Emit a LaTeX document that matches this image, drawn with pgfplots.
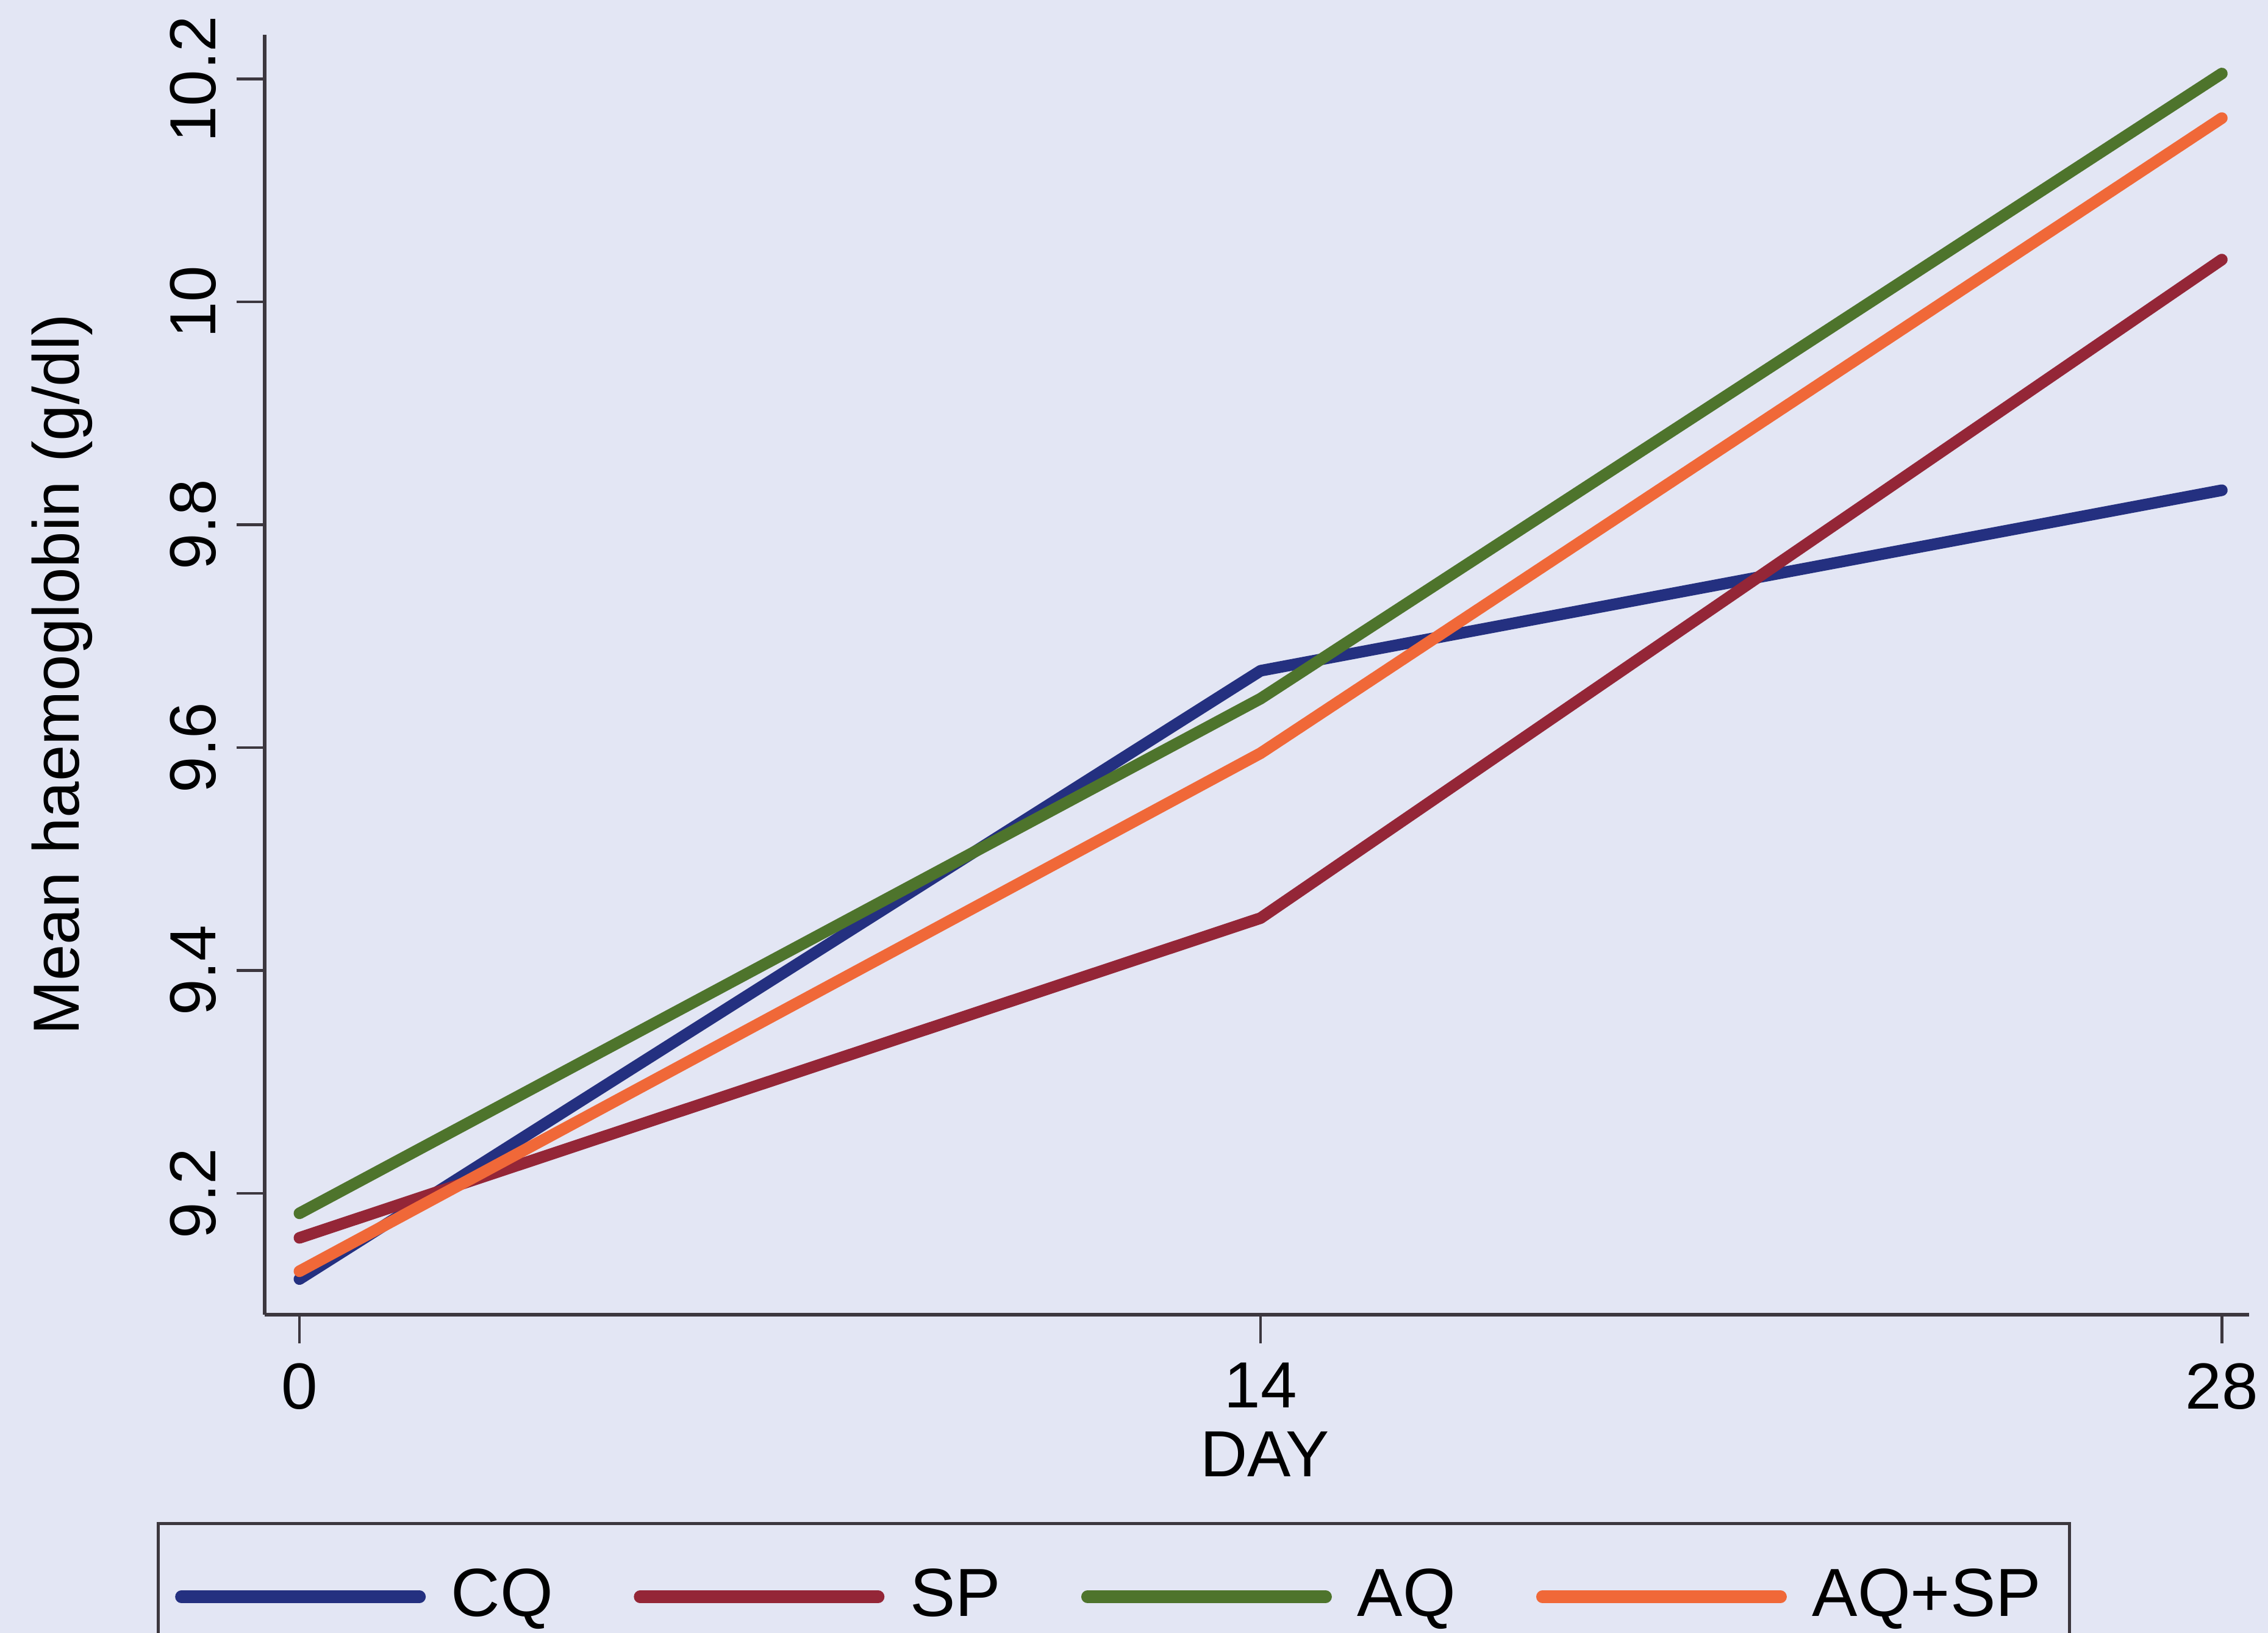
\documentclass[border=0pt]{standalone}
\usepackage{pgfplots}
\pgfplotsset{compat=1.18}
\usepackage{fontspec}
\setmainfont{Liberation Sans}
\definecolor{bg}{RGB}{227,230,244}
\definecolor{cq}{RGB}{36,48,128}
\definecolor{sp}{RGB}{148,38,55}
\definecolor{aq}{RGB}{78,116,44}
\definecolor{aqsp}{RGB}{240,104,56}
\definecolor{axc}{RGB}{60,55,62}
\begin{document}
\begin{tikzpicture}
\fill[bg] (-46.7pt,-56.1pt) rectangle (353.3pt,231.9pt);
\path[use as bounding box] (-46.7pt,-56.1pt) rectangle (353.3pt,231.9pt);
\begin{axis}[
  at={(0pt,0pt)}, anchor=south west,
  scale only axis, width=350pt, height=225.8pt,
  xmin=-0.505, xmax=28.4, ymin=9.091, ymax=10.24,
  axis x line*=bottom, axis y line*=left,
  x axis line style={-, draw=axc, line width=0.6pt},
  y axis line style={-, draw=axc, line width=0.6pt},
  xtick={0,14,28}, ytick={9.2,9.4,9.6,9.8,10,10.2},
  yticklabels={9.2,9.4,9.6,9.8,10,10.2},
  /pgf/number format/assume math mode=true,
  tick align=outside, major tick length=5pt,
  tick style={draw=axc, line width=0.5pt},
  tick label style={font=\fontsize{11.5}{13}\selectfont, text=black},
  yticklabel style={rotate=90, anchor=south},
  xlabel={DAY}, ylabel={Mean haemoglobin (g/dl)},
  label style={font=\fontsize{11.5}{13}\selectfont},
  xlabel style={at={(axis description cs:0.504,-0.109)}, anchor=center},
  ylabel style={at={(axis description cs:-0.102,0.5)}, anchor=center},
  legend columns=4,
  legend style={at={(-0.0546,-0.1617)}, anchor=north west, draw=axc, line width=0.6pt, fill=bg,
    font=\fontsize{12}{14}\selectfont, inner xsep=3pt, inner ysep=6pt,
    /tikz/every odd column/.append style={column sep=2.5pt},
    /tikz/every even column/.append style={column sep=12.2pt}},
  legend image code/.code={\draw[#1, line width=2.2pt, line cap=round] (0pt,0pt) -- (42pt,0pt);},
  every axis plot/.append style={line width=2.05pt, line cap=round, line join=round},
]
\addplot[cq] coordinates {(0,9.123) (14,9.669) (28,9.831)};
\addlegendentry{CQ}
\addplot[sp] coordinates {(0,9.160) (14,9.447) (28,10.038)};
\addlegendentry{SP}
\addplot[aq] coordinates {(0,9.182) (14,9.644) (28,10.205)};
\addlegendentry{AQ}
\addplot[aqsp] coordinates {(0,9.130) (14,9.595) (28,10.165)};
\addlegendentry{AQ+SP}
\end{axis}
\end{tikzpicture}
\end{document}
